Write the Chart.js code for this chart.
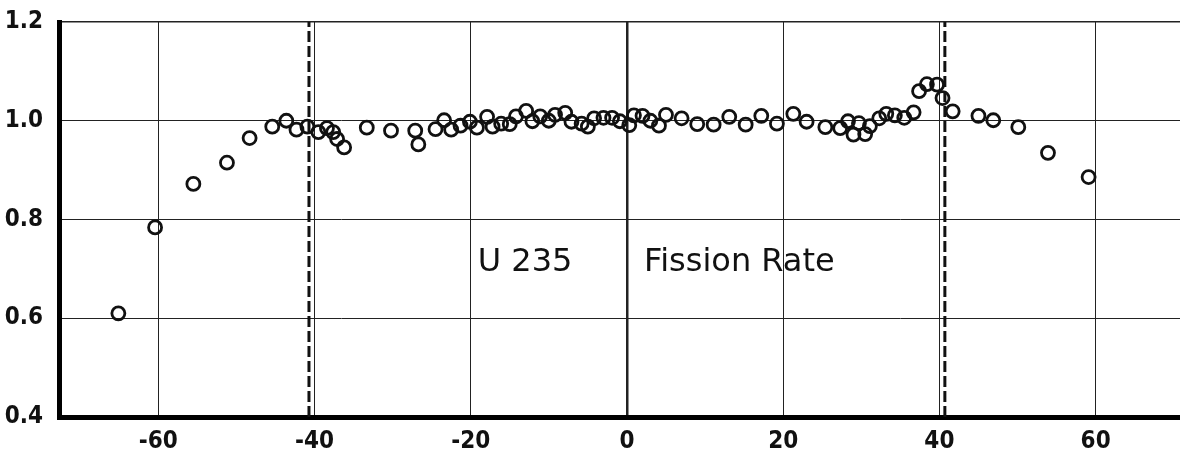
<!DOCTYPE html>
<html>
<head>
<meta charset="utf-8">
<title>U 235 Fission Rate</title>
<script src="https://cdn.jsdelivr.net/npm/chart.js@4/dist/chart.umd.min.js"></script>
<style>
  html, body { margin: 0; padding: 0; background: #fff; }
  #wrap { width: 1180px; height: 458px; }
</style>
</head>
<body>
<div id="wrap"><canvas id="fissionChart" width="1180" height="458"></canvas></div>
<script>
// Measured fission rate along the axis (position, relative rate)
const positions = [
  -65.1, -60.4, -55.5, -51.2, -48.3, -45.4, -43.6, -42.3, -40.9, -39.5,
  -38.4, -37.6, -37.1, -36.2, -33.3, -30.2, -27.1, -26.7, -24.5, -23.4,
  -22.5, -21.3, -20.1, -19.2, -17.9, -17.2, -16.1, -15.0, -14.2, -12.9,
  -12.1, -11.1, -10.0, -9.2, -7.9, -7.1, -5.8, -5.0, -4.2, -3.0,
  -1.9, -0.9, 0.3, 0.9, 2.0, 3.0, 4.1, 5.0, 7.0, 9.0,
  11.1, 13.1, 15.2, 17.2, 19.2, 21.3, 23.0, 25.4, 27.3, 28.3,
  29.0, 29.7, 30.5, 31.1, 32.3, 33.2, 34.3, 35.5, 36.7, 37.4,
  38.4, 39.7, 40.4, 41.7, 45.0, 46.9, 50.1, 53.9, 59.1
];
const rates = [
  0.610, 0.784, 0.872, 0.915, 0.965, 0.988, 1.000, 0.982, 0.988, 0.977,
  0.985, 0.977, 0.963, 0.946, 0.986, 0.980, 0.980, 0.952, 0.983, 1.001,
  0.982, 0.990, 0.998, 0.986, 1.008, 0.988, 0.994, 0.993, 1.009, 1.020,
  0.999, 1.009, 1.000, 1.012, 1.016, 0.998, 0.994, 0.988, 1.005, 1.006,
  1.006, 0.999, 0.991, 1.011, 1.010, 1.000, 0.990, 1.012, 1.005, 0.993,
  0.992, 1.008, 0.992, 1.010, 0.994, 1.014, 0.998, 0.987, 0.985, 0.999,
  0.972, 0.995, 0.973, 0.989, 1.005, 1.014, 1.011, 1.006, 1.017, 1.060,
  1.074, 1.073, 1.046, 1.019, 1.010, 1.001, 0.987, 0.935, 0.886
];

// Core boundaries (dashed verticals)
const boundaries = [-40.7, 40.7];

const xTicks = [-60, -40, -20, 0, 20, 40, 60];
const yTicks = [0.4, 0.6, 0.8, 1.0, 1.2];
const labels = [
  { text: "U 235", x: -19.1, y: 0.696 },
  { text: "Fission Rate", x: 2.2, y: 0.696 },
];

const FONT = "'DejaVu Sans Condensed', 'DejaVu Sans', sans-serif";

document.addEventListener("DOMContentLoaded", () => {
  const points = positions.map((x, i) => ({ x: x, y: rates[i] }));

  const boundarySets = boundaries.map((b) => ({
    type: "line",
    data: [
      { x: b, y: yTicks[0] },
      { x: b, y: yTicks[yTicks.length - 1] },
    ],
    borderColor: "#111",
    borderWidth: 3,
    borderDash: [11, 4],
    pointRadius: 0,
    fill: false,
  }));

  // in-plot caption
  const textPlugin = {
    id: "plotText",
    afterDatasetsDraw(chart) {
      const { ctx, scales } = chart;
      ctx.save();
      ctx.fillStyle = "#111";
      ctx.font = "32px 'DejaVu Sans', sans-serif";
      ctx.textAlign = "left";
      ctx.textBaseline = "alphabetic";
      labels.forEach((l) => {
        ctx.fillText(l.text, scales.x.getPixelForValue(l.x), scales.y.getPixelForValue(l.y));
      });
      ctx.restore();
    },
  };

  new Chart(document.getElementById("fissionChart"), {
    type: "scatter",
    data: {
      datasets: [
        {
          data: points,
          pointStyle: "circle",
          pointRadius: 6.5,
          pointBorderWidth: 2.8,
          pointBorderColor: "#111",
          pointBackgroundColor: "rgba(0,0,0,0)",
        },
        ...boundarySets,
      ],
    },
    options: {
      responsive: false,
      animation: false,
      layout: {
        autoPadding: false,
        padding: { top: 22, right: 0, left: 0, bottom: 0 },
      },
      plugins: {
        legend: { display: false },
        tooltip: { enabled: false },
      },
      scales: {
        x: {
          type: "linear",
          min: -72.7,
          max: 70.8,
          afterFit: (scale) => {
            scale.height = 41;
            scale.paddingLeft = 0;
            scale.paddingRight = 0;
          },
          afterBuildTicks: (scale) => {
            scale.ticks = xTicks.map((v) => ({ value: v }));
          },
          ticks: {
            color: "#111",
            padding: 10,
            font: { family: FONT, size: 24, weight: "bold" },
            callback: (v) => String(v),
          },
          grid: {
            color: "#222",
            lineWidth: (c) => (c.tick && c.tick.value === 0 ? 2.5 : 1),
            drawTicks: false,
          },
          border: { color: "#000", width: 5 },
        },
        y: {
          min: 0.4,
          max: 1.2,
          afterFit: (scale) => {
            scale.width = 59;
            scale.paddingTop = 0;
            scale.paddingBottom = 0;
          },
          afterBuildTicks: (scale) => {
            scale.ticks = yTicks.map((v) => ({ value: v }));
          },
          ticks: {
            color: "#111",
            padding: 16,
            font: { family: FONT, size: 24, weight: "bold" },
            callback: (v) => Number(v).toFixed(1),
          },
          grid: {
            color: "#222",
            lineWidth: (c) => (c.tick && c.tick.value === 1.2 ? 1.5 : 1),
            drawTicks: false,
          },
          border: { color: "#000", width: 5 },
        },
      },
    },
    plugins: [textPlugin],
  });
});
</script>
</body>
</html>
